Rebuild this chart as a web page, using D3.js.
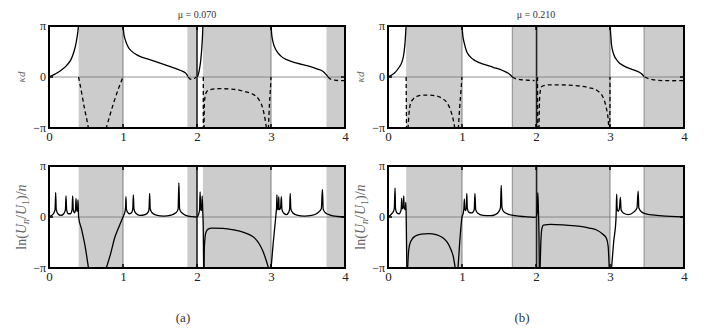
<!DOCTYPE html>
<html>
<head>
<meta charset="utf-8">
<script src="https://cdn.jsdelivr.net/npm/d3@7"></script>
<style>
  body { margin: 0; background: #fff; }
  text { font-family: "Liberation Serif", "DejaVu Serif", serif; }
</style>
</head>
<body>
<div class="canvas"></div>
<script>
// ---- data ----
const xTicks = [0, 1, 2, 3, 4];
const yTickValues = [-Math.PI, 0, Math.PI];
const yTickLabels = ['−π', '0', 'π'];
const titles = ['μ = 0.070', 'μ = 0.210'];
const subLabels = ['(a)', '(b)'];

// band gaps (grey) per column
const gapsA = [[0.40, 1.00], [1.87, 2.00], [2.08, 3.00], [3.75, 4.00]];
const gapsB = [[0.245, 1.00], [1.68, 2.00], [2.02, 3.00], [3.46, 4.00]];
const edgeLinesA = [2.0];
const edgeLinesB = [1.68, 2.01, 3.46];

// kappa d, real part (solid)
const realA = [
  [[0,0],[0.08,0.18],[0.16,0.4],[0.24,0.72],[0.3,1.1],[0.34,1.6],[0.37,2.2],[0.39,2.8],[0.40,3.2]],
  [[1.0,3.2],[1.01,2.7],[1.03,2.3],[1.07,1.85],[1.12,1.58],[1.2,1.33],[1.35,1.08],[1.5,0.85],[1.65,0.62],[1.78,0.4],[1.85,0.22],[1.88,0.03]],
  [[2.005,0],[2.03,0.4],[2.05,1.0],[2.065,1.8],[2.075,2.6],[2.08,3.2]],
  [[3.0,3.2],[3.01,2.6],[3.03,2.1],[3.07,1.65],[3.13,1.3],[3.22,1.05],[3.35,0.85],[3.5,0.68],[3.62,0.5],[3.7,0.35],[3.74,0.18],[3.77,0.02]]
];
// kappa d, imaginary part (dashed)
const imagA = [
  [[0.40,0],[0.44,-0.95],[0.48,-1.95],[0.51,-2.6],[0.535,-3.2]],
  [[0.77,-3.2],[0.82,-2.4],[0.88,-1.5],[0.94,-0.7],[1.0,0]],
  [[1.88,0],[1.9,-0.1],[1.93,-0.15],[1.96,-0.1],[1.99,0]],
  [[2.085,0],[2.085,-3.2]],
  [[2.095,-3.2],[2.1,-1.6],[2.12,-1.0],[2.16,-0.8],[2.3,-0.72],[2.5,-0.76],[2.65,-0.9],[2.75,-1.05],[2.83,-1.35],[2.88,-1.8],[2.92,-2.6],[2.94,-3.2]],
  [[2.965,-3.2],[2.98,-1.6],[2.995,-0.5],[3.0,0]],
  [[3.77,0],[3.8,-0.12],[3.86,-0.19],[3.93,-0.22],[4.0,-0.22]]
];
const realB = [
  [[0,0],[0.05,0.12],[0.1,0.3],[0.15,0.6],[0.19,0.95],[0.215,1.45],[0.23,2.1],[0.24,2.8],[0.245,3.2]],
  [[1.0,3.2],[1.01,2.6],[1.03,2.1],[1.06,1.6],[1.1,1.3],[1.18,1.0],[1.3,0.78],[1.42,0.6],[1.55,0.4],[1.63,0.22],[1.68,0.02]],
  [[3.0,3.2],[3.01,2.6],[3.02,2.0],[3.05,1.4],[3.1,1.0],[3.18,0.7],[3.28,0.5],[3.38,0.33],[3.43,0.18],[3.46,0.02]]
];
const imagB = [
  [[0.245,0],[0.25,-3.2]],
  [[0.27,-3.2],[0.285,-2.2],[0.3,-1.7],[0.34,-1.36],[0.4,-1.18],[0.48,-1.12],[0.56,-1.12],[0.66,-1.17],[0.74,-1.35],[0.8,-1.6],[0.85,-2.1],[0.88,-2.6],[0.905,-3.2]],
  [[0.95,-3.2],[0.97,-1.8],[0.99,-0.6],[1.0,0]],
  [[1.68,0],[1.72,-0.1],[1.8,-0.17],[1.9,-0.2],[1.98,-0.22]],
  [[2.02,0],[2.025,-3.2]],
  [[2.04,-3.2],[2.05,-1.2],[2.07,-0.62],[2.12,-0.52],[2.2,-0.48],[2.45,-0.5],[2.6,-0.56],[2.72,-0.66],[2.84,-0.88],[2.91,-1.3],[2.95,-1.9],[2.975,-2.6],[2.985,-3.2]],
  [[2.995,-3.2],[3.0,-1.5],[3.0,0]],
  [[3.47,0],[3.52,-0.1],[3.6,-0.18],[3.7,-0.22],[3.85,-0.23],[4.0,-0.22]]
];

// ln(U_n/U_1)/n
const lnA = [
  [[0,0.03],[0.03,0.08],[0.06,0.2],[0.082,0.45],[0.09,1.5],[0.098,0.45],[0.12,0.2],[0.16,0.1],[0.2,0.2],[0.222,0.45],[0.23,1.3],[0.238,0.45],[0.26,0.2],[0.29,0.2],[0.312,0.45],[0.32,1.3],[0.328,0.45],[0.345,0.25],[0.358,0.45],[0.365,1.15],[0.372,0.45],[0.382,0.35],[0.388,0.6],[0.392,1.05],[0.396,0.5],[0.40,0],[0.44,-0.75],[0.49,-1.85],[0.535,-3.2]],
  [[0.77,-3.2],[0.83,-2.3],[0.89,-1.25],[0.95,-0.55],[1.0,0],[1.01,0.1],[1.025,0.3],[1.035,0.6],[1.04,1.25],[1.046,0.5],[1.06,0.3],[1.09,0.2],[1.12,0.3],[1.132,0.5],[1.14,1.36],[1.148,0.5],[1.17,0.25],[1.23,0.1],[1.3,0.15],[1.34,0.3],[1.352,0.5],[1.36,1.46],[1.368,0.5],[1.39,0.28],[1.45,0.12],[1.55,0.06],[1.65,0.12],[1.72,0.28],[1.745,0.5],[1.755,2.1],[1.765,0.5],[1.79,0.28],[1.85,0.1],[1.93,0.02],[2.0,0],[2.02,0.15],[2.035,0.45],[2.042,1.55],[2.05,0.45],[2.062,0.4],[2.07,1.3],[2.078,0.3],[2.085,-0.8],[2.09,-3.2]],
  [[2.095,-3.2],[2.1,-1.8],[2.12,-0.95],[2.15,-0.75],[2.2,-0.68],[2.35,-0.7],[2.5,-0.8],[2.6,-0.9],[2.7,-1.07],[2.78,-1.3],[2.84,-1.65],[2.89,-2.1],[2.93,-2.6],[2.97,-3.2]],
  [[3.0,-3.2],[3.03,-1.6],[3.06,-0.2],[3.07,0.3],[3.075,0.6],[3.08,1.36],[3.086,0.5],[3.095,0.45],[3.1,0.6],[3.105,1.25],[3.11,0.5],[3.12,0.45],[3.13,0.6],[3.14,1.25],[3.148,0.45],[3.17,0.25],[3.21,0.15],[3.24,0.3],[3.252,0.5],[3.26,1.46],[3.268,0.5],[3.29,0.28],[3.35,0.12],[3.45,0.06],[3.55,0.1],[3.63,0.25],[3.68,0.5],[3.695,1.7],[3.705,0.5],[3.73,0.28],[3.8,0.12],[3.9,0.03],[4.0,0]]
];
const lnB = [
  [[0,0.03],[0.03,0.1],[0.06,0.25],[0.085,0.5],[0.095,1.8],[0.102,0.5],[0.12,0.25],[0.15,0.2],[0.172,0.35],[0.18,0.6],[0.185,1.15],[0.19,0.6],[0.198,0.5],[0.207,0.7],[0.213,1.3],[0.218,0.6],[0.228,0.45],[0.236,0.5],[0.24,0.9],[0.245,0.3],[0.255,-3.2]],
  [[0.265,-3.2],[0.275,-2.3],[0.29,-1.75],[0.32,-1.4],[0.37,-1.17],[0.45,-1.05],[0.55,-1.02],[0.65,-1.08],[0.73,-1.25],[0.8,-1.55],[0.85,-2.0],[0.885,-2.5],[0.91,-3.2]],
  [[0.945,-3.2],[0.97,-1.5],[0.99,-0.4],[1.0,0],[1.015,0.2],[1.025,0.5],[1.032,1.1],[1.038,0.5],[1.05,0.4],[1.058,0.6],[1.065,1.45],[1.072,0.55],[1.09,0.3],[1.13,0.25],[1.165,0.45],[1.175,1.45],[1.185,0.45],[1.21,0.25],[1.28,0.1],[1.38,0.08],[1.45,0.15],[1.5,0.35],[1.52,0.6],[1.53,1.95],[1.54,0.6],[1.56,0.35],[1.62,0.18],[1.72,0.08],[1.85,0.02],[1.98,-0.02],[2.0,0],[2.015,0.3],[2.025,1.5],[2.033,0.3],[2.04,-1.0],[2.045,-3.2]],
  [[2.055,-3.2],[2.065,-1.6],[2.08,-0.7],[2.1,-0.5],[2.2,-0.45],[2.4,-0.5],[2.6,-0.58],[2.72,-0.68],[2.82,-0.8],[2.9,-1.05],[2.95,-1.3],[2.975,-1.8],[2.99,-3.2]],
  [[3.02,-3.2],[3.05,-1.5],[3.08,-0.2],[3.085,0.5],[3.09,1.4],[3.097,0.5],[3.11,0.35],[3.128,0.55],[3.14,1.2],[3.15,0.45],[3.18,0.25],[3.25,0.15],[3.32,0.3],[3.365,0.55],[3.38,1.6],[3.39,0.55],[3.43,0.3],[3.5,0.18],[3.6,0.12],[3.75,0.06],[3.9,0.02],[4.0,0]]
];

// ---- layout ----
const width = 706, height = 331;
const colX = [49, 388];
const rowY = [26, 166];
const pw = 296, ph = 102;
const bandFill = '#cccccc';
const serif = '"Liberation Serif", "DejaVu Serif", serif';

const svg = d3.select('.canvas')
  .append('svg')
  .attr('width', width)
  .attr('height', height);

const xScale = d3.scaleLinear().domain([0, 4]).range([0, pw]);
const yScale = d3.scaleLinear().domain([-Math.PI, Math.PI]).range([ph, 0]);

const line = d3.line()
  .x(d => xScale(d[0]))
  .y(d => yScale(d[1]))
  .curve(d3.curveMonotoneX);

const panels = [
  { col: 0, row: 0, gaps: gapsA, edges: edgeLinesA, solid: realA, dashed: imagA },
  { col: 0, row: 1, gaps: gapsA, edges: edgeLinesA, solid: lnA, dashed: [] },
  { col: 1, row: 0, gaps: gapsB, edges: edgeLinesB, solid: realB, dashed: imagB },
  { col: 1, row: 1, gaps: gapsB, edges: edgeLinesB, solid: lnB, dashed: [] }
];

panels.forEach((p, i) => {
  const g = svg.append('g')
    .attr('transform', `translate(${colX[p.col]},${rowY[p.row]})`);

  const clipId = 'clip' + i;
  g.append('clipPath').attr('id', clipId)
    .append('rect').attr('width', pw).attr('height', ph);

  // grey band gaps
  g.selectAll('rect.gap')
    .data(p.gaps)
    .enter().append('rect')
    .attr('class', 'gap')
    .attr('x', d => xScale(d[0]))
    .attr('width', d => xScale(d[1]) - xScale(d[0]))
    .attr('y', 0)
    .attr('height', ph)
    .attr('fill', bandFill);

  // vertical grid lines at integer ticks
  g.selectAll('line.grid')
    .data(xTicks.slice(1, -1))
    .enter().append('line')
    .attr('x1', d => xScale(d)).attr('x2', d => xScale(d))
    .attr('y1', 0).attr('y2', ph)
    .attr('stroke', '#666').attr('stroke-width', 0.8);

  // band edge lines (the one near 2 is a black jump of the curve)
  g.selectAll('line.edge')
    .data(p.edges)
    .enter().append('line')
    .attr('x1', d => xScale(d)).attr('x2', d => xScale(d))
    .attr('y1', 0).attr('y2', ph)
    .attr('stroke', d => (d === 2.0 || d === 2.01) ? '#111' : '#777')
    .attr('stroke-width', d => (d === 2.0 || d === 2.01) ? 1.3 : 0.8);

  // zero line
  g.append('line')
    .attr('x1', 0).attr('x2', pw)
    .attr('y1', yScale(0)).attr('y2', yScale(0))
    .attr('stroke', '#777').attr('stroke-width', 0.8);

  const curves = g.append('g').attr('clip-path', `url(#${clipId})`);

  curves.selectAll('path.dash')
    .data(p.dashed)
    .enter().append('path')
    .attr('d', line)
    .attr('fill', 'none')
    .attr('stroke', '#000')
    .attr('stroke-width', 1.3)
    .attr('stroke-dasharray', '4,3');

  curves.selectAll('path.solid')
    .data(p.solid)
    .enter().append('path')
    .attr('d', line)
    .attr('fill', 'none')
    .attr('stroke', '#000')
    .attr('stroke-width', 1.3);

  // frame
  g.append('rect')
    .attr('width', pw).attr('height', ph)
    .attr('fill', 'none')
    .attr('stroke', '#000')
    .attr('stroke-width', 2);

  // inner ticks
  xTicks.slice(1, -1).forEach(t => {
    g.append('line').attr('x1', xScale(t)).attr('x2', xScale(t))
      .attr('y1', 0).attr('y2', 4).attr('stroke', '#000').attr('stroke-width', 1.5);
    g.append('line').attr('x1', xScale(t)).attr('x2', xScale(t))
      .attr('y1', ph - 4).attr('y2', ph).attr('stroke', '#000').attr('stroke-width', 1.5);
  });
  [0, pw].forEach(x0 => {
    g.append('line').attr('x1', x0 === 0 ? 0 : pw - 4).attr('x2', x0 === 0 ? 4 : pw)
      .attr('y1', yScale(0)).attr('y2', yScale(0))
      .attr('stroke', '#000').attr('stroke-width', 1.5);
  });

  // axes (labels only)
  const xAxis = d3.axisBottom(xScale).tickValues(xTicks).tickFormat(d3.format('d'))
    .tickSize(0).tickPadding(4);
  const xg = g.append('g').attr('transform', `translate(0,${ph})`).call(xAxis);
  xg.select('.domain').remove();
  xg.selectAll('text').attr('font-size', 13).attr('fill', '#222')
    .attr('font-family', serif);

  const yAxis = d3.axisLeft(yScale).tickValues(yTickValues)
    .tickFormat((d, k) => yTickLabels[k]).tickSize(0).tickPadding(3);
  const yg = g.append('g').call(yAxis);
  yg.select('.domain').remove();
  yg.selectAll('text').attr('font-size', 12).attr('fill', '#222')
    .attr('font-family', serif);

  // y labels
  const lab = g.append('text')
    .attr('transform', `translate(${p.col === 0 ? -28 : -28},${ph / 2}) rotate(-90)`)
    .attr('text-anchor', 'middle')
    .attr('font-family', serif)
    .attr('fill', '#666');
  if (p.row === 0) {
    lab.attr('font-size', 11).attr('dy', '0.35em');
    lab.append('tspan').attr('font-style', 'italic').text('κd');
  } else {
    lab.attr('font-size', 14).attr('dy', '0.35em');
    lab.append('tspan').text('ln(');
    lab.append('tspan').attr('font-style', 'italic').text('U');
    lab.append('tspan').attr('font-style', 'italic').attr('font-size', 10).attr('dy', 3).text('n');
    lab.append('tspan').attr('dy', -3).text('/');
    lab.append('tspan').attr('font-style', 'italic').text('U');
    lab.append('tspan').attr('font-size', 10).attr('dy', 3).text('1');
    lab.append('tspan').attr('dy', -3).text(')/');
    lab.append('tspan').attr('font-style', 'italic').text('n');
  }
});

// titles and sub-labels
titles.forEach((t, i) => {
  svg.append('text')
    .attr('x', colX[i] + pw / 2).attr('y', 18)
    .attr('text-anchor', 'middle')
    .attr('font-family', serif)
    .attr('font-size', 10)
    .attr('fill', '#333')
    .text(t);
});
subLabels.forEach((t, i) => {
  svg.append('text')
    .attr('x', colX[i] + pw / 2 - 14).attr('y', 322)
    .attr('text-anchor', 'middle')
    .attr('font-family', serif)
    .attr('font-size', 13)
    .attr('fill', '#333')
    .text(t);
});
</script>
</body>
</html>
